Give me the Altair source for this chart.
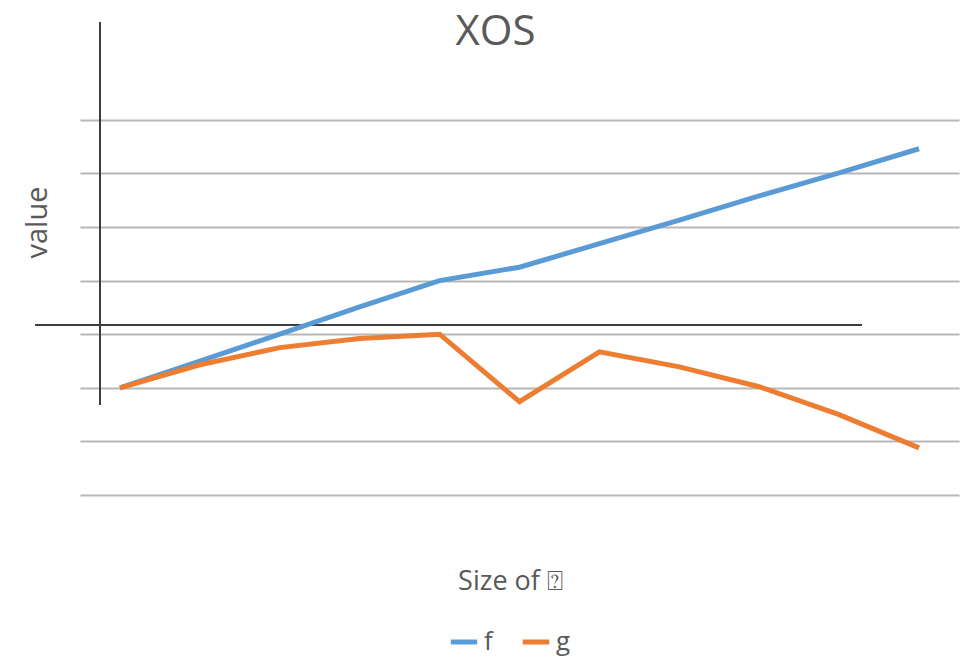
import altair as alt
import pandas as pd

steps = list(range(1, 12))
f_values = [0.0, 0.5, 1.0, 1.51, 2.0, 2.25, 2.69, 3.13, 3.58, 4.01, 4.46]
g_values = [0.0, 0.43, 0.75, 0.92, 1.0, -0.26, 0.67, 0.39, 0.02, -0.50, -1.12]
series_names = ["f", "g"]
series_colors = ["#5b9bd5", "#ed7d31"]
grid_values = [-2, -1, 0, 1, 2, 3, 4, 5]

rows = []
for name, vals in zip(series_names, [f_values, g_values]):
    for s, v in zip(steps, vals):
        rows.append({"step": s, "value": v, "series": name})
df = pd.DataFrame(rows)

FONT = "Open Sans"
GREY = "#595959"

x_scale = alt.Scale(domain=[0.5, 11.5], nice=False, zero=False)
y_scale = alt.Scale(domain=[-2, 6.825], nice=False, zero=False)

lines = alt.Chart(df).mark_line(strokeWidth=5, clip=False).encode(
    x=alt.X("step:Q", scale=x_scale,
            axis=alt.Axis(title="Size of ⍰", labels=False, ticks=False, domain=False, grid=False,
                          titleFont=FONT, titleFontSize=27, titleFontWeight="normal", titleColor=GREY,
                          titleX=430, titleY=86, titleBaseline="middle", titleAlign="center")),
    y=alt.Y("value:Q", scale=y_scale,
            axis=alt.Axis(title="value", labels=False, ticks=False, domain=False, grid=True,
                          values=grid_values, gridColor="#b7b7b7", gridWidth=2.2,
                          titleFont=FONT, titleFontSize=29, titleFontWeight="normal", titleColor=GREY,
                          titleAngle=270, titleX=-43, titleY=200, titleBaseline="middle", titleAlign="center")),
    color=alt.Color("series:N", scale=alt.Scale(domain=series_names, range=series_colors),
                    legend=alt.Legend(title=None, orient="none", legendX=368, legendY=604, direction="horizontal",
                                      symbolType="stroke", symbolStrokeWidth=5, symbolSize=700,
                                      labelFont=FONT, labelFontSize=26, labelColor=GREY,
                                      columnPadding=19, labelOffset=4)),
    order=alt.Order("series:N"),
)

vrule = alt.Chart(df).mark_rule(color="#3f3f3f", strokeWidth=1.5).encode(
    x=alt.value(20), y=alt.value(0), y2=alt.value(383)
)
hrule = alt.Chart(df).mark_rule(color="#3f3f3f", strokeWidth=1.5).encode(
    x=alt.value(-45), x2=alt.value(782), y=alt.value(303)
)

chart = alt.layer(vrule, hrule, lines).properties(
    width=879, height=473,
    background="white",
    title=alt.TitleParams("XOS", font=FONT, fontSize=42, fontWeight="normal", color=GREY,
                          anchor="middle", dx=-24, offset=-33),
    autosize=alt.AutoSizeParams(type="none"),
    padding={"left": 80, "top": 22, "right": 2, "bottom": 162},
).configure_view(strokeWidth=0, stroke="transparent")

chart.save("out.html", embed_options={"renderer": "svg", "actions": False})
